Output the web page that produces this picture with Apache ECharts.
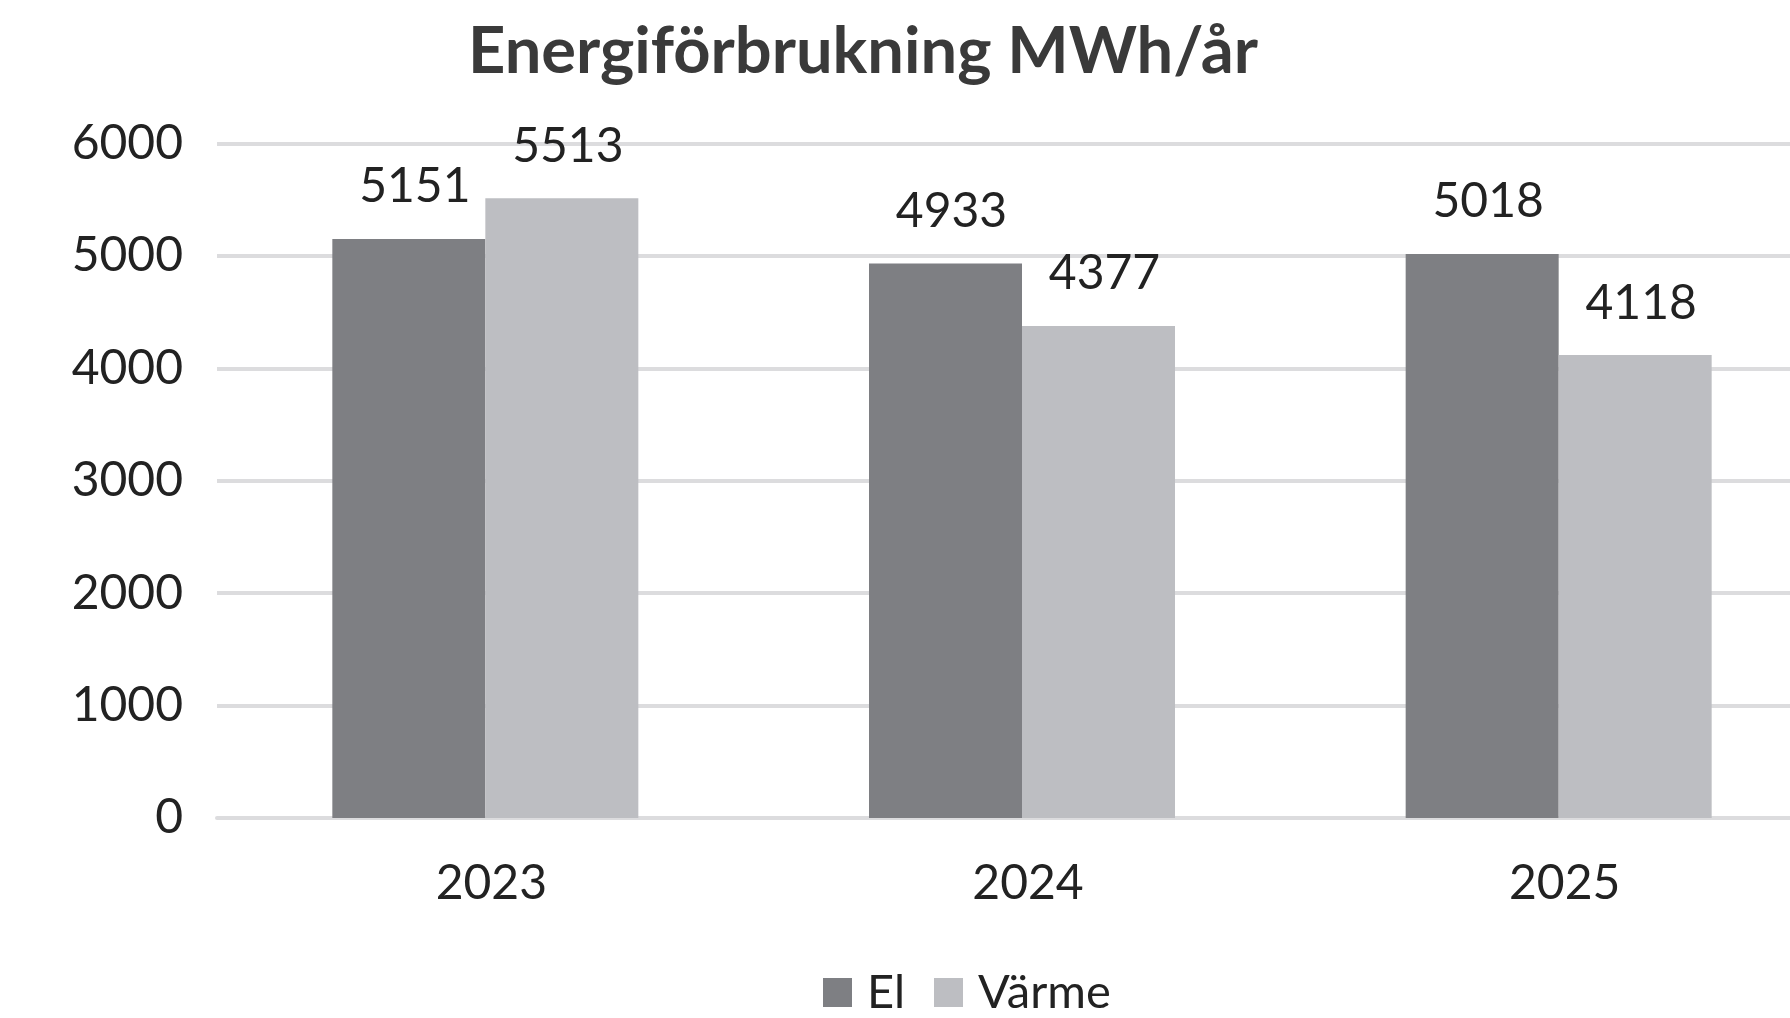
<!DOCTYPE html>
<html>
<head>
<meta charset="utf-8">
<script src="https://cdn.jsdelivr.net/npm/echarts@6/dist/echarts.min.js"></script>
<style>
html,body{margin:0;padding:0;background:#fff;}
#chart{width:1790px;height:1018px;}
</style>
</head>
<body>
<div id="chart"></div>
<script>
const categories = ['2023', '2024', '2025'];
const elValues = [5151, 4933, 5018];
const varmeValues = [5513, 4377, 4118];
const seriesNames = ['El', 'Värme'];
const titleText = 'Energiförbrukning MWh/år';

const FONT = 'Lato, "Liberation Sans", sans-serif';
const chart = echarts.init(document.getElementById('chart'), null, {renderer: 'canvas'});
chart.setOption({
  animation: false,
  backgroundColor: '#ffffff',
  title: {
    text: titleText,
    left: 858,
    textAlign: 'center',
    top: 15,
    textStyle: {fontFamily: FONT, fontWeight: 'bold', fontSize: 65, color: '#3a3a3a'}
  },
  legend: {
    data: seriesNames,
    left: 818,
    top: 964,
    itemWidth: 29,
    itemHeight: 29,
    itemGap: 29,
    icon: 'rect',
    textStyle: {fontFamily: FONT, fontSize: 47, color: '#222', padding: [0, 0, 0, 10]}
  },
  grid: {left: 217, right: -37, top: 143.5, bottom: 200, containLabel: false, outerBoundsMode: 'none'},
  xAxis: {
    type: 'category',
    data: categories,
    axisTick: {show: false},
    axisLine: {show: true, lineStyle: {color: '#dcdcde', width: 4}},
    axisLabel: {fontFamily: FONT, fontSize: 48, color: '#222', margin: 42, padding: [0, 0, 0, 12]}
  },
  yAxis: {
    type: 'value',
    min: 0,
    max: 6000,
    interval: 1000,
    axisLine: {show: false},
    axisTick: {show: false},
    splitLine: {lineStyle: {color: '#dcdcde', width: 4}},
    axisLabel: {fontFamily: FONT, fontSize: 48, color: '#222', margin: 34, formatter: function (v) { return String(v); }}
  },
  series: [
    {
      name: seriesNames[0], type: 'bar', data: elValues, barWidth: 153, barGap: '0%',
      itemStyle: {color: '#7e7f83'},
      label: {show: true, position: 'top', distance: 28, offset: [6, 0], fontFamily: FONT, fontSize: 48, color: '#222'}
    },
    {
      name: seriesNames[1], type: 'bar', data: varmeValues, barWidth: 153, barGap: '0%',
      itemStyle: {color: '#bdbec2'},
      label: {show: true, position: 'top', distance: 28, offset: [6, 0], fontFamily: FONT, fontSize: 48, color: '#222'}
    }
  ]
});
</script>
</body>
</html>
